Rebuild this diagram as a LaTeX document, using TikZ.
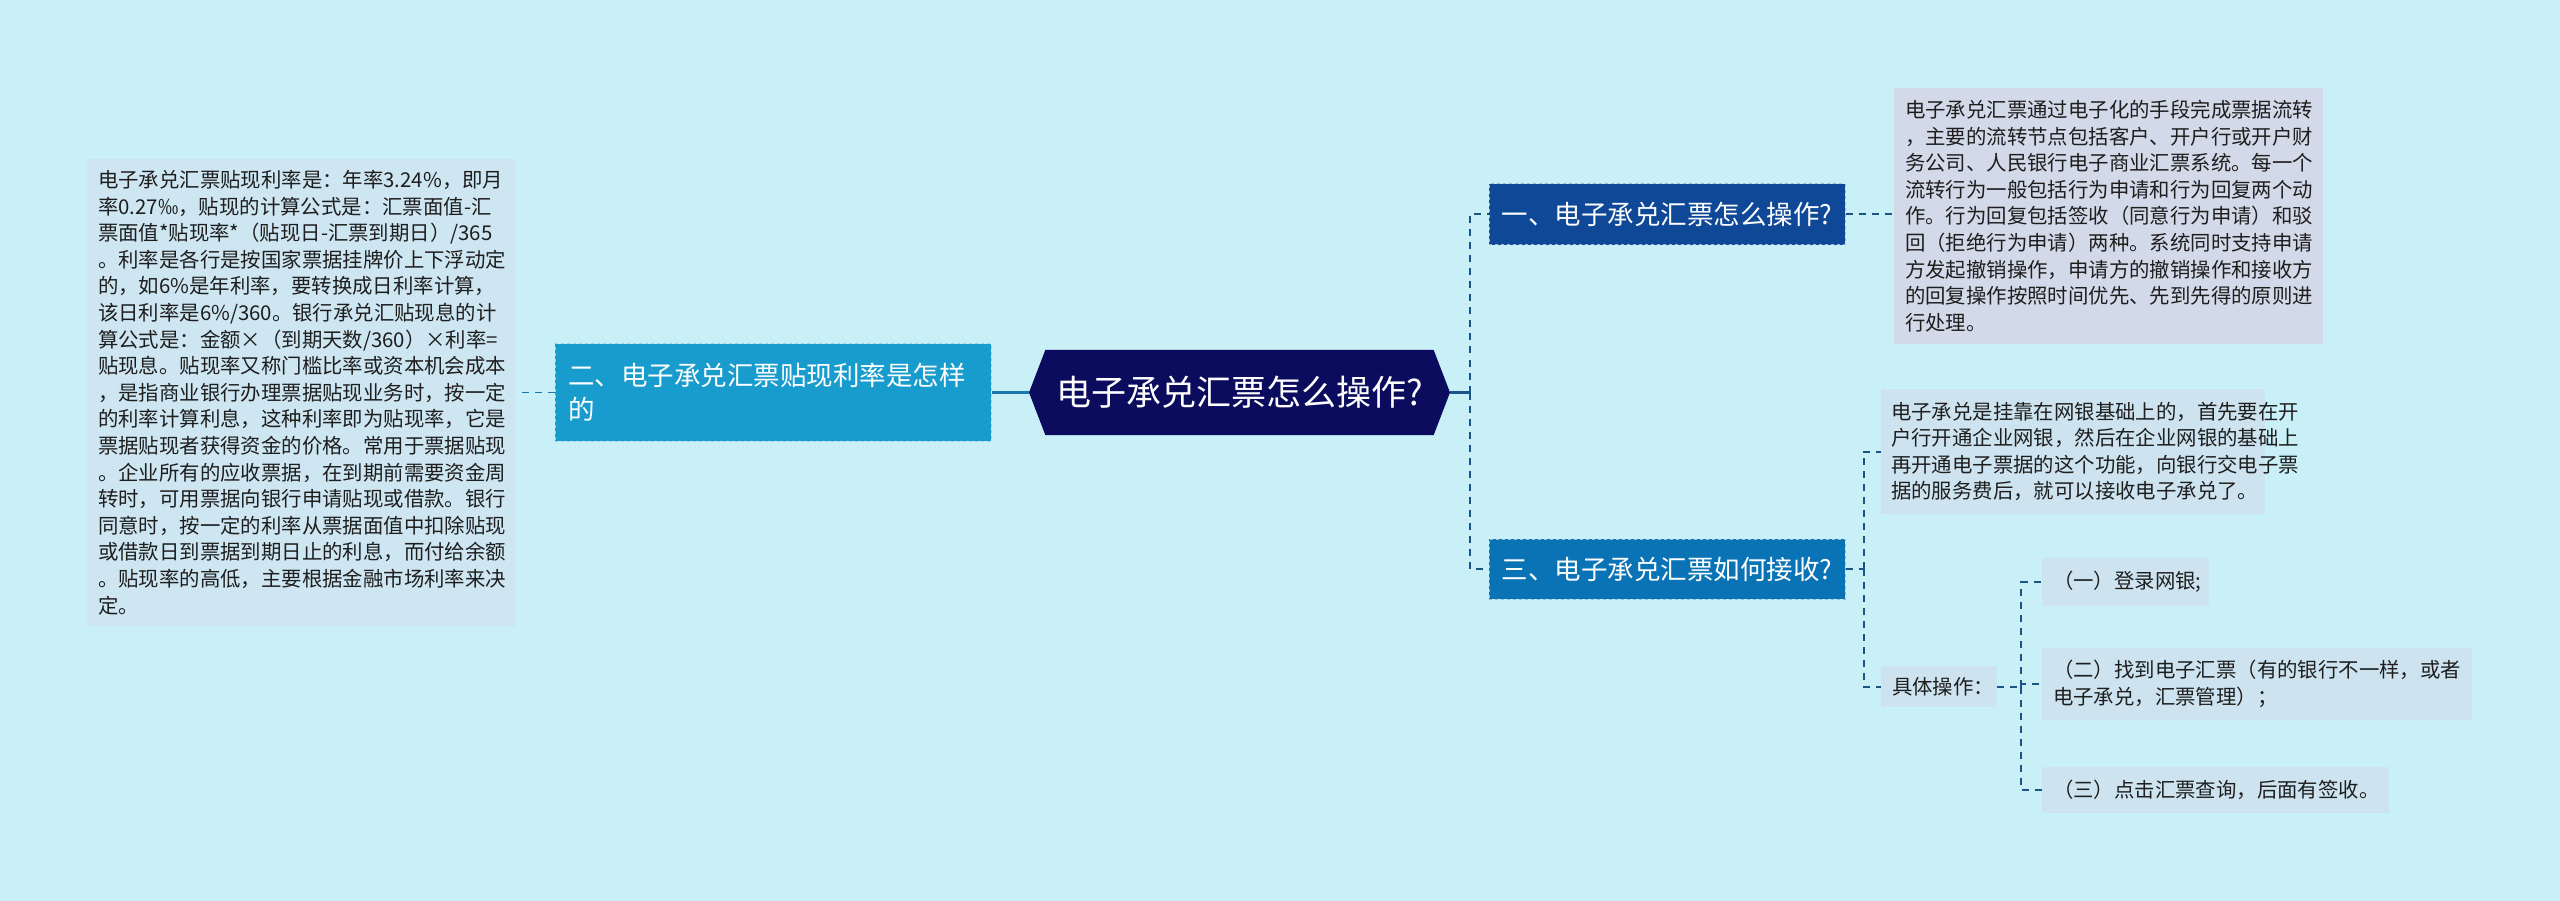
\documentclass[tikz,border=0pt]{standalone}
\usepackage{fontspec}
\setmainfont{Noto Sans CJK SC}
\usetikzlibrary{shapes.symbols}
\definecolor{bg}{RGB}{201,239,247}
\definecolor{ltfill}{RGB}{206,230,242}
\definecolor{d1fill}{RGB}{210,217,232}
\definecolor{subfill}{RGB}{205,228,240}
\definecolor{navy}{RGB}{12,12,94}
\definecolor{n1fill}{RGB}{15,72,150}
\definecolor{n3fill}{RGB}{10,115,181}
\definecolor{lbfill}{RGB}{24,155,205}
\definecolor{mainline}{RGB}{25,120,175}
\definecolor{connc}{RGB}{25,85,135}
\definecolor{txt}{RGB}{30,30,30}
\tikzset{
  tbox/.style={align=left, inner xsep=11pt, inner ysep=0pt, text=txt,
    font=\fontsize{20.4}{26.6}\selectfont},
  head/.style={text=white, inner sep=0pt, font=\fontsize{26.5}{34}\selectfont,
    draw=white!60!n1fill, dashed, line width=1pt},
  mainconn/.style={draw=mainline, line width=3pt},
  conn/.style={draw=connc, line width=2pt, dash pattern=on 7pt off 6pt},
  connl/.style={draw=mainline, line width=1.6pt, dash pattern=on 7pt off 6pt},
}
\begin{document}
\begin{tikzpicture}[x=1pt,y=-1pt]
\fill[bg] (0,0) rectangle (2560,901);
\useasboundingbox (0,0) rectangle (2560,901);

% left text box
\node[tbox, fill=ltfill, text width=407pt, minimum height=467pt] (lt) at (301.5,392.5) {%
电子承兑汇票贴现利率是：年率3.24\%，即月\\
率0.27‰，贴现的计算公式是：汇票面值-汇\\
票面值*贴现率*（贴现日-汇票到期日）/365\\
。利率是各行是按国家票据挂牌价上下浮动定\\
的，如6\%是年利率，要转换成日利率计算，\\
该日利率是6\%/360。银行承兑汇贴现息的计\\
算公式是：金额×（到期天数/360）×利率=\\
贴现息。贴现率又称门槛比率或资本机会成本\\
，是指商业银行办理票据贴现业务时，按一定\\
的利率计算利息，这种利率即为贴现率，它是\\
票据贴现者获得资金的价格。常用于票据贴现\\
。企业所有的应收票据，在到期前需要资金周\\
转时，可用票据向银行申请贴现或借款。银行\\
同意时，按一定的利率从票据面值中扣除贴现\\
或借款日到票据到期日止的利息，而付给余额\\
。贴现率的高低，主要根据金融市场利率来决\\
定。};

% left branch
\node[head, fill=lbfill, draw=white!55!lbfill, align=left, inner xsep=13pt,
  text width=410pt, minimum height=97pt] (lb) at (773,392.5) {%
二、电子承兑汇票贴现利率是怎样\\的};

% center
\node[signal, signal to=west and east, signal pointer angle=138, fill=navy,
  text=white, inner sep=0pt, font=\fontsize{35}{40}\selectfont,
  minimum width=421pt, minimum height=85pt] (c) at (1239.5,392.5) {电子承兑汇票怎么操作?};

% right branches
\node[head, fill=n1fill, minimum width=356pt, minimum height=61pt] (n1) at (1667,214.5) {一、电子承兑汇票怎么操作?};
\node[head, fill=n3fill, draw=white!55!n3fill, minimum width=356pt, minimum height=60pt] (n3) at (1667,569) {三、电子承兑汇票如何接收?};

\node[tbox, fill=d1fill, text width=407pt, minimum height=256pt] (d1) at (2108.5,216) {%
电子承兑汇票通过电子化的手段完成票据流转\\
，主要的流转节点包括客户、开户行或开户财\\
务公司、人民银行电子商业汇票系统。每一个\\
流转行为一般包括行为申请和行为回复两个动\\
作。行为回复包括签收（同意行为申请）和驳\\
回（拒绝行为申请）两种。系统同时支持申请\\
方发起撤销操作，申请方的撤销操作和接收方\\
的回复操作按照时间优先、先到先得的原则进\\
行处理。};

\node[tbox, fill=subfill, inner xsep=10pt, text width=364pt, minimum height=125pt] (d3) at (2073,451.5) {%
电子承兑是挂靠在网银基础上的，首先要在开\\
户行开通企业网银，然后在企业网银的基础上\\
再开通电子票据的这个功能，向银行交电子票\\
据的服务费后，就可以接收电子承兑了。};

\node[tbox, fill=subfill, text width=94pt, minimum height=41pt] (op) at (1939,686.5) {具体操作：};

\node[tbox, fill=subfill, text width=145pt, minimum height=48pt] (s1) at (2125.5,582) {（一）登录网银;};
\node[tbox, fill=subfill, text width=408pt, minimum height=72pt] (s2) at (2257,684) {%
（二）找到电子汇票（有的银行不一样，或者\\电子承兑，汇票管理）；};
\node[tbox, fill=subfill, text width=325pt, minimum height=46pt] (s3) at (2215.5,790) {（三）点击汇票查询，后面有签收。};

% connectors
\draw[mainconn] (c.west) -- (lb.east);
\draw[connl] (lb.west) -- (lt.east);
\draw[mainconn, draw=connc] (c.east) -- ++(20,0) coordinate (t1);
\draw[conn] (t1) |- (n1.west);
\draw[conn] (t1) |- (n3.west);
\draw[conn] (n1.east) -- (n1.east -| d1.west);
\draw[conn] (n3.east) -- ++(18,0) coordinate (t3);
\draw[conn] (t3) |- (d3.west);
\draw[conn] (t3) |- (op.west);
\draw[conn] (op.east) -- ++(24,0) coordinate (t4);
\draw[conn] (t4) |- (s1.west);
\draw[conn] (t4) |- (s2.west);
\draw[conn] (t4) |- (s3.west);
\end{tikzpicture}
\end{document}
